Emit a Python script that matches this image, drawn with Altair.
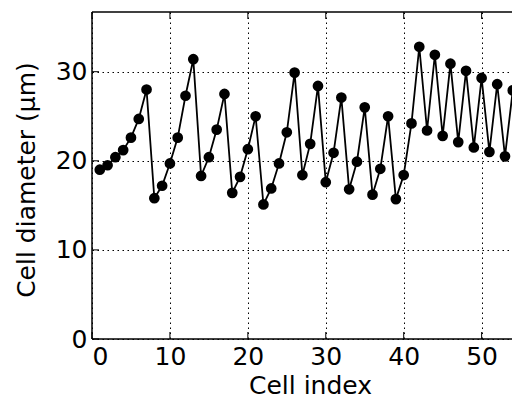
import altair as alt
import pandas as pd

cell_index = list(range(1, 55))
cell_diameter = [
    19.0, 19.5, 20.4, 21.2, 22.6, 24.7, 28.0, 15.8, 17.2, 19.7,
    22.6, 27.3, 31.4, 18.3, 20.4, 23.5, 27.5, 16.4, 18.2, 21.3,
    25.0, 15.1, 16.9, 19.7, 23.2, 29.9, 18.4, 21.9, 28.4, 17.6,
    20.9, 27.1, 16.8, 19.9, 26.0, 16.2, 19.1, 25.0, 15.7, 18.4,
    24.2, 32.8, 23.4, 31.9, 22.8, 30.9, 22.1, 30.1, 21.5, 29.3,
    21.0, 28.6, 20.5, 27.9,
]
x_ticks = [0, 10, 20, 30, 40, 50]
y_ticks = [0, 10, 20, 30]

X_MAX = 53.9
Y_MAX = 36.7
W = 420
H = 327
TICK = 7
FONT = "DejaVu Sans"
FS = 25
XT = "Cell index"
YT = "Cell diameter (μm)"

df = pd.DataFrame({"x": cell_index, "y": cell_diameter})
xt = pd.DataFrame({"x": x_ticks})
yt = pd.DataFrame({"y": y_ticks})

xs = alt.Scale(domain=[0, X_MAX], nice=False, zero=False)
ys = alt.Scale(domain=[0, Y_MAX], nice=False, zero=False)

xaxis = alt.Axis(values=x_ticks, grid=True, ticks=False, domain=False,
                 labelPadding=5, titleBaseline="alphabetic", titleY=54,
                 titleX=218, titleAlign="center")
yaxis = alt.Axis(values=y_ticks, grid=True, ticks=False, domain=False,
                 labelPadding=5, titleBaseline="alphabetic", titleX=-58,
                 titleY=H / 2 + 4, titleAlign="center")

base = alt.Chart(df).encode(
    x=alt.X("x:Q", scale=xs, axis=xaxis, title=XT),
    y=alt.Y("y:Q", scale=ys, axis=yaxis, title=YT),
)
line = base.mark_line(color="black", strokeWidth=1.8, clip=True)
pts = base.mark_circle(color="black", size=115, opacity=1, clip=True)

left_ticks = alt.Chart(yt).mark_rule(color="black", strokeWidth=1).encode(
    y=alt.Y("y:Q", scale=ys, title=YT), x=alt.value(0), x2=alt.value(TICK))
bottom_ticks = alt.Chart(xt).mark_rule(color="black", strokeWidth=1).encode(
    x=alt.X("x:Q", scale=xs, title=XT), y=alt.value(H), y2=alt.value(H - TICK))
top_ticks = alt.Chart(xt).mark_rule(color="black", strokeWidth=1).encode(
    x=alt.X("x:Q", scale=xs, title=XT), y=alt.value(0), y2=alt.value(TICK))

# frame (left, top, bottom; the right side runs off the picture)
frame_src = alt.Chart(pd.DataFrame({"k": [0]}))
frame_left = frame_src.mark_rule(color="black", strokeWidth=1.5).encode(
    x=alt.value(0), y=alt.value(0), y2=alt.value(H))
frame_top = frame_src.mark_rule(color="black", strokeWidth=1.5).encode(
    x=alt.value(0), x2=alt.value(W), y=alt.value(0))
frame_bottom = frame_src.mark_rule(color="black", strokeWidth=1.5).encode(
    x=alt.value(0), x2=alt.value(W), y=alt.value(H))

chart = alt.layer(line, pts, left_ticks, bottom_ticks, top_ticks,
                  frame_left, frame_top, frame_bottom).properties(
    width=W, height=H,
    autosize=alt.AutoSizeParams(type="none"),
    padding={"left": 84, "top": 4, "right": 0, "bottom": 62},
).configure_view(
    stroke=None
).configure_axis(
    labelFont=FONT, titleFont=FONT, labelFontSize=FS, titleFontSize=FS,
    labelColor="black", titleColor="black", titleFontWeight="normal",
    gridColor="black", gridDash=[1.5, 3.5], gridWidth=1, gridOpacity=1,
)

chart.save("out.html", embed_options={"renderer": "svg", "actions": False})
